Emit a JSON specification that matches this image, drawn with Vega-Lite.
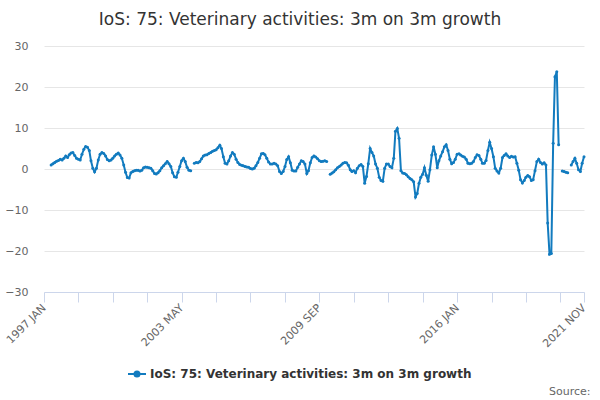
{
  "$schema": "https://vega.github.io/schema/vega-lite/v6.json",
  "width": 540,
  "height": 246,
  "autosize": {"type": "none"},
  "padding": {"left": 44, "top": 46, "right": 16, "bottom": 108},
  "background": "white",
  "config": {
    "font": "DejaVu Sans",
    "view": {"stroke": null}
  },
  "title": {
    "text": "IoS: 75: Veterinary activities: 3m on 3m growth",
    "fontSize": 17,
    "fontWeight": "normal",
    "color": "#333333",
    "anchor": "middle",
    "dx": -14,
    "dy": 24,
    "baseline": "alphabetic",
    "offset": 22
  },
  "data": {
    "values": [
      {"date": "1997-05-01", "value": 1.0},
      {"date": "1997-06-01", "value": 1.3},
      {"date": "1997-07-01", "value": 1.6},
      {"date": "1997-08-01", "value": 1.9},
      {"date": "1997-09-01", "value": 2.1},
      {"date": "1997-10-01", "value": 2.4},
      {"date": "1997-11-01", "value": 2.2},
      {"date": "1997-12-01", "value": 2.6},
      {"date": "1998-01-01", "value": 3.2},
      {"date": "1998-02-01", "value": 2.8},
      {"date": "1998-03-01", "value": 3.5},
      {"date": "1998-04-01", "value": 3.9},
      {"date": "1998-05-01", "value": 4.0},
      {"date": "1998-06-01", "value": 3.3},
      {"date": "1998-07-01", "value": 2.6},
      {"date": "1998-08-01", "value": 2.4},
      {"date": "1998-09-01", "value": 2.2},
      {"date": "1998-10-01", "value": 3.6},
      {"date": "1998-11-01", "value": 4.8},
      {"date": "1998-12-01", "value": 5.5},
      {"date": "1999-01-01", "value": 5.3},
      {"date": "1999-02-01", "value": 4.5},
      {"date": "1999-03-01", "value": 2.0},
      {"date": "1999-04-01", "value": 0.2},
      {"date": "1999-05-01", "value": -0.7},
      {"date": "1999-06-01", "value": 0.2},
      {"date": "1999-07-01", "value": 2.2},
      {"date": "1999-08-01", "value": 3.6},
      {"date": "1999-09-01", "value": 4.0},
      {"date": "1999-10-01", "value": 3.8},
      {"date": "1999-11-01", "value": 3.2},
      {"date": "1999-12-01", "value": 2.3},
      {"date": "2000-01-01", "value": 2.0},
      {"date": "2000-02-01", "value": 2.2},
      {"date": "2000-03-01", "value": 2.6},
      {"date": "2000-04-01", "value": 3.2},
      {"date": "2000-05-01", "value": 3.6},
      {"date": "2000-06-01", "value": 3.9},
      {"date": "2000-07-01", "value": 3.4},
      {"date": "2000-08-01", "value": 2.6},
      {"date": "2000-09-01", "value": 1.0},
      {"date": "2000-10-01", "value": -0.8},
      {"date": "2000-11-01", "value": -2.1},
      {"date": "2000-12-01", "value": -2.2},
      {"date": "2001-01-01", "value": -0.9},
      {"date": "2001-02-01", "value": -0.6},
      {"date": "2001-03-01", "value": -0.4},
      {"date": "2001-04-01", "value": -0.3},
      {"date": "2001-05-01", "value": -0.3},
      {"date": "2001-06-01", "value": -0.5},
      {"date": "2001-07-01", "value": -0.3},
      {"date": "2001-08-01", "value": 0.3},
      {"date": "2001-09-01", "value": 0.5},
      {"date": "2001-10-01", "value": 0.4},
      {"date": "2001-11-01", "value": 0.3},
      {"date": "2001-12-01", "value": 0.2},
      {"date": "2002-01-01", "value": -0.4},
      {"date": "2002-02-01", "value": -1.1},
      {"date": "2002-03-01", "value": -1.2},
      {"date": "2002-04-01", "value": -0.9},
      {"date": "2002-05-01", "value": -0.4},
      {"date": "2002-06-01", "value": 0.3},
      {"date": "2002-07-01", "value": 0.8},
      {"date": "2002-08-01", "value": 1.3},
      {"date": "2002-09-01", "value": 1.8},
      {"date": "2002-10-01", "value": 1.3},
      {"date": "2002-11-01", "value": 0.6},
      {"date": "2002-12-01", "value": -0.9},
      {"date": "2003-01-01", "value": -1.9},
      {"date": "2003-02-01", "value": -2.0},
      {"date": "2003-03-01", "value": -0.8},
      {"date": "2003-04-01", "value": 0.6},
      {"date": "2003-05-01", "value": 2.0},
      {"date": "2003-06-01", "value": 2.6},
      {"date": "2003-07-01", "value": 1.8},
      {"date": "2003-08-01", "value": 0.4},
      {"date": "2003-09-01", "value": -0.3},
      {"date": "2003-10-01", "value": -0.4},
      {"date": "2003-11-01", "value": null},
      {"date": "2003-12-01", "value": 1.4},
      {"date": "2004-01-01", "value": 1.6},
      {"date": "2004-02-01", "value": 1.5},
      {"date": "2004-03-01", "value": 1.8},
      {"date": "2004-04-01", "value": 2.5},
      {"date": "2004-05-01", "value": 3.2},
      {"date": "2004-06-01", "value": 3.4},
      {"date": "2004-07-01", "value": 3.5},
      {"date": "2004-08-01", "value": 3.8},
      {"date": "2004-09-01", "value": 4.0},
      {"date": "2004-10-01", "value": 4.3},
      {"date": "2004-11-01", "value": 4.5},
      {"date": "2004-12-01", "value": 4.7},
      {"date": "2005-01-01", "value": 5.2},
      {"date": "2005-02-01", "value": 5.8},
      {"date": "2005-03-01", "value": 5.0},
      {"date": "2005-04-01", "value": 3.0},
      {"date": "2005-05-01", "value": 1.4},
      {"date": "2005-06-01", "value": 1.2},
      {"date": "2005-07-01", "value": 2.0},
      {"date": "2005-08-01", "value": 3.2},
      {"date": "2005-09-01", "value": 4.0},
      {"date": "2005-10-01", "value": 3.6},
      {"date": "2005-11-01", "value": 2.4},
      {"date": "2005-12-01", "value": 1.6},
      {"date": "2006-01-01", "value": 1.1},
      {"date": "2006-02-01", "value": 0.9},
      {"date": "2006-03-01", "value": 0.8},
      {"date": "2006-04-01", "value": 0.6},
      {"date": "2006-05-01", "value": 0.5},
      {"date": "2006-06-01", "value": 0.4},
      {"date": "2006-07-01", "value": 0.1},
      {"date": "2006-08-01", "value": 0.0},
      {"date": "2006-09-01", "value": 0.2},
      {"date": "2006-10-01", "value": 0.8},
      {"date": "2006-11-01", "value": 1.6},
      {"date": "2006-12-01", "value": 2.6},
      {"date": "2007-01-01", "value": 3.7},
      {"date": "2007-02-01", "value": 3.8},
      {"date": "2007-03-01", "value": 3.5},
      {"date": "2007-04-01", "value": 2.6},
      {"date": "2007-05-01", "value": 1.7},
      {"date": "2007-06-01", "value": 1.2},
      {"date": "2007-07-01", "value": 1.2},
      {"date": "2007-08-01", "value": 1.4},
      {"date": "2007-09-01", "value": 1.2},
      {"date": "2007-10-01", "value": 0.8},
      {"date": "2007-11-01", "value": -0.6},
      {"date": "2007-12-01", "value": -1.1},
      {"date": "2008-01-01", "value": -0.6},
      {"date": "2008-02-01", "value": 0.6},
      {"date": "2008-03-01", "value": 2.3},
      {"date": "2008-04-01", "value": 3.0},
      {"date": "2008-05-01", "value": 1.5},
      {"date": "2008-06-01", "value": -0.3},
      {"date": "2008-07-01", "value": -0.5},
      {"date": "2008-08-01", "value": -0.5},
      {"date": "2008-09-01", "value": 0.4},
      {"date": "2008-10-01", "value": 1.2},
      {"date": "2008-11-01", "value": 2.0},
      {"date": "2008-12-01", "value": 1.8},
      {"date": "2009-01-01", "value": 1.2},
      {"date": "2009-02-01", "value": -1.1},
      {"date": "2009-03-01", "value": -0.4},
      {"date": "2009-04-01", "value": 1.5},
      {"date": "2009-05-01", "value": 2.8},
      {"date": "2009-06-01", "value": 3.2},
      {"date": "2009-07-01", "value": 2.9},
      {"date": "2009-08-01", "value": 2.5},
      {"date": "2009-09-01", "value": 2.0},
      {"date": "2009-10-01", "value": 1.8},
      {"date": "2009-11-01", "value": 1.9},
      {"date": "2009-12-01", "value": 2.0},
      {"date": "2010-01-01", "value": 1.8},
      {"date": "2010-02-01", "value": null},
      {"date": "2010-03-01", "value": -1.3},
      {"date": "2010-04-01", "value": -1.0},
      {"date": "2010-05-01", "value": -0.7},
      {"date": "2010-06-01", "value": -0.2},
      {"date": "2010-07-01", "value": 0.3},
      {"date": "2010-08-01", "value": 0.6},
      {"date": "2010-09-01", "value": 1.0},
      {"date": "2010-10-01", "value": 1.4},
      {"date": "2010-11-01", "value": 1.6},
      {"date": "2010-12-01", "value": 1.5},
      {"date": "2011-01-01", "value": 0.9},
      {"date": "2011-02-01", "value": -0.2},
      {"date": "2011-03-01", "value": -0.6},
      {"date": "2011-04-01", "value": -0.4},
      {"date": "2011-05-01", "value": -0.9},
      {"date": "2011-06-01", "value": 0.2},
      {"date": "2011-07-01", "value": 0.8},
      {"date": "2011-08-01", "value": 1.1},
      {"date": "2011-09-01", "value": 0.6},
      {"date": "2011-10-01", "value": -3.5},
      {"date": "2011-11-01", "value": -1.8},
      {"date": "2011-12-01", "value": 1.3},
      {"date": "2012-01-01", "value": 5.0},
      {"date": "2012-02-01", "value": 4.0},
      {"date": "2012-03-01", "value": 3.2},
      {"date": "2012-04-01", "value": 1.2},
      {"date": "2012-05-01", "value": 0.2},
      {"date": "2012-06-01", "value": -2.0},
      {"date": "2012-07-01", "value": -2.8},
      {"date": "2012-08-01", "value": -3.0},
      {"date": "2012-09-01", "value": 0.2},
      {"date": "2012-10-01", "value": 1.2},
      {"date": "2012-11-01", "value": 1.2},
      {"date": "2012-12-01", "value": 0.6},
      {"date": "2013-01-01", "value": 0.3},
      {"date": "2013-02-01", "value": 2.6},
      {"date": "2013-03-01", "value": 9.2},
      {"date": "2013-04-01", "value": 9.9},
      {"date": "2013-05-01", "value": 7.5},
      {"date": "2013-06-01", "value": -0.4},
      {"date": "2013-07-01", "value": -1.0},
      {"date": "2013-08-01", "value": -1.1},
      {"date": "2013-09-01", "value": -1.4},
      {"date": "2013-10-01", "value": -1.9},
      {"date": "2013-11-01", "value": -2.3},
      {"date": "2013-12-01", "value": -2.6},
      {"date": "2014-01-01", "value": -3.1},
      {"date": "2014-02-01", "value": -6.8},
      {"date": "2014-03-01", "value": -6.0},
      {"date": "2014-04-01", "value": -3.5},
      {"date": "2014-05-01", "value": -2.0},
      {"date": "2014-06-01", "value": -1.3},
      {"date": "2014-07-01", "value": 0.3},
      {"date": "2014-08-01", "value": -1.5},
      {"date": "2014-09-01", "value": -3.0},
      {"date": "2014-10-01", "value": -0.2},
      {"date": "2014-11-01", "value": 3.4},
      {"date": "2014-12-01", "value": 5.4},
      {"date": "2015-01-01", "value": 3.6},
      {"date": "2015-02-01", "value": 0.3},
      {"date": "2015-03-01", "value": 2.0},
      {"date": "2015-04-01", "value": 3.2},
      {"date": "2015-05-01", "value": 4.2},
      {"date": "2015-06-01", "value": 5.4},
      {"date": "2015-07-01", "value": 5.9},
      {"date": "2015-08-01", "value": 4.5},
      {"date": "2015-09-01", "value": 2.4},
      {"date": "2015-10-01", "value": 1.3},
      {"date": "2015-11-01", "value": 1.6},
      {"date": "2015-12-01", "value": 2.4},
      {"date": "2016-01-01", "value": 3.6},
      {"date": "2016-02-01", "value": 3.7},
      {"date": "2016-03-01", "value": 3.4},
      {"date": "2016-04-01", "value": 3.1},
      {"date": "2016-05-01", "value": 2.9},
      {"date": "2016-06-01", "value": 2.4},
      {"date": "2016-07-01", "value": 1.4},
      {"date": "2016-08-01", "value": 1.3},
      {"date": "2016-09-01", "value": 1.4},
      {"date": "2016-10-01", "value": 1.8},
      {"date": "2016-11-01", "value": 2.8},
      {"date": "2016-12-01", "value": 3.5},
      {"date": "2017-01-01", "value": 3.3},
      {"date": "2017-02-01", "value": 2.4},
      {"date": "2017-03-01", "value": 1.4},
      {"date": "2017-04-01", "value": 1.4},
      {"date": "2017-05-01", "value": 2.1},
      {"date": "2017-06-01", "value": 4.5},
      {"date": "2017-07-01", "value": 6.5},
      {"date": "2017-08-01", "value": 5.0},
      {"date": "2017-09-01", "value": 3.0},
      {"date": "2017-10-01", "value": 0.2},
      {"date": "2017-11-01", "value": -0.5},
      {"date": "2017-12-01", "value": -1.0},
      {"date": "2018-01-01", "value": 0.2},
      {"date": "2018-02-01", "value": 2.8},
      {"date": "2018-03-01", "value": 3.3},
      {"date": "2018-04-01", "value": 3.7},
      {"date": "2018-05-01", "value": 3.2},
      {"date": "2018-06-01", "value": 2.8},
      {"date": "2018-07-01", "value": 3.1},
      {"date": "2018-08-01", "value": 2.9},
      {"date": "2018-09-01", "value": 3.0},
      {"date": "2018-10-01", "value": 1.4},
      {"date": "2018-11-01", "value": -0.3},
      {"date": "2018-12-01", "value": -2.6},
      {"date": "2019-01-01", "value": -3.4},
      {"date": "2019-02-01", "value": -2.8},
      {"date": "2019-03-01", "value": -2.0},
      {"date": "2019-04-01", "value": -1.6},
      {"date": "2019-05-01", "value": -1.9},
      {"date": "2019-06-01", "value": -2.8},
      {"date": "2019-07-01", "value": -2.6},
      {"date": "2019-08-01", "value": -0.4},
      {"date": "2019-09-01", "value": 1.8},
      {"date": "2019-10-01", "value": 2.4},
      {"date": "2019-11-01", "value": 1.6},
      {"date": "2019-12-01", "value": 1.2},
      {"date": "2020-01-01", "value": 1.5},
      {"date": "2020-02-01", "value": 1.0},
      {"date": "2020-03-01", "value": -13.2},
      {"date": "2020-04-01", "value": -20.8},
      {"date": "2020-05-01", "value": -20.6},
      {"date": "2020-06-01", "value": 6.3},
      {"date": "2020-07-01", "value": 22.5},
      {"date": "2020-08-01", "value": 23.7},
      {"date": "2020-09-01", "value": 5.9},
      {"date": "2020-10-01", "value": null},
      {"date": "2020-11-01", "value": -0.5},
      {"date": "2020-12-01", "value": -0.6},
      {"date": "2021-01-01", "value": -0.8},
      {"date": "2021-02-01", "value": -0.9},
      {"date": "2021-03-01", "value": null},
      {"date": "2021-04-01", "value": 1.0},
      {"date": "2021-05-01", "value": 1.8},
      {"date": "2021-06-01", "value": 2.6},
      {"date": "2021-07-01", "value": 1.4},
      {"date": "2021-08-01", "value": -0.2},
      {"date": "2021-09-01", "value": -0.6},
      {"date": "2021-10-01", "value": 1.4},
      {"date": "2021-11-01", "value": 3.0}
    ]
  },
  "mark": {
    "type": "line",
    "strokeWidth": 2,
    "point": {"filled": true, "size": 9}
  },
  "encoding": {
    "x": {
      "field": "date",
      "type": "temporal",
      "scale": {
        "type": "utc",
        "domain": [
          {"year": 1997, "month": 1, "date": 1, "utc": true},
          {"year": 2021, "month": 11, "date": 1, "utc": true}
        ]
      },
      "axis": {
        "title": "Source:",
        "titleAnchor": "end",
        "titleAlign": "right",
        "titleX": 546,
        "titleY": 102,
        "titleBaseline": "alphabetic",
        "titleFontSize": 11,
        "titleFontWeight": "normal",
        "titleColor": "#666666",
        "values": [
          {"year": 1997, "month": 1, "date": 1, "utc": true},
          {"year": 1998, "month": 8, "date": 1, "utc": true},
          {"year": 2000, "month": 3, "date": 1, "utc": true},
          {"year": 2001, "month": 10, "date": 1, "utc": true},
          {"year": 2003, "month": 5, "date": 1, "utc": true},
          {"year": 2004, "month": 12, "date": 1, "utc": true},
          {"year": 2006, "month": 7, "date": 1, "utc": true},
          {"year": 2008, "month": 2, "date": 1, "utc": true},
          {"year": 2009, "month": 9, "date": 1, "utc": true},
          {"year": 2011, "month": 4, "date": 1, "utc": true},
          {"year": 2012, "month": 11, "date": 1, "utc": true},
          {"year": 2014, "month": 6, "date": 1, "utc": true},
          {"year": 2016, "month": 1, "date": 1, "utc": true},
          {"year": 2017, "month": 8, "date": 1, "utc": true},
          {"year": 2019, "month": 3, "date": 1, "utc": true},
          {"year": 2020, "month": 10, "date": 1, "utc": true},
          {"year": 2021, "month": 11, "date": 1, "utc": true}
        ],
        "labelExpr": "indexof(['1997 JAN','2003 MAY','2009 SEP','2016 JAN','2021 NOV'], upper(utcFormat(datum.value, '%Y %b'))) >= 0 ? upper(utcFormat(datum.value, '%Y %b')) : ''",
        "labelAngle": -45,
        "labelAlign": "right",
        "labelBaseline": "middle",
        "labelFontSize": 11,
        "labelColor": "#666666",
        "labelPadding": 4,
        "labelOverlap": false,
        "labelBound": false,
        "labelFlush": false,
        "tickColor": "#ccd6eb",
        "tickSize": 10,
        "domainColor": "#ccd6eb",
        "grid": false
      }
    },
    "y": {
      "field": "value",
      "type": "quantitative",
      "scale": {"domain": [-30, 30], "nice": false},
      "axis": {
        "title": null,
        "values": [-30, -20, -10, 0, 10, 20, 30],
        "domain": false,
        "ticks": false,
        "labelFontSize": 11,
        "labelColor": "#666666",
        "labelPadding": 16,
        "gridColor": "#e6e6e6",
        "gridWidth": 1
      }
    },
    "color": {
      "datum": "IoS: 75: Veterinary activities: 3m on 3m growth",
      "type": "nominal",
      "scale": {"range": ["#127bbf"]},
      "legend": {
        "title": null,
        "orient": "none",
        "legendX": 83,
        "legendY": 318,
        "labelFontSize": 12,
        "labelFontWeight": "bold",
        "labelColor": "#333333",
        "labelLimit": 600,
        "labelOffset": 3,
        "symbolType": "M-1,0L1,0M-0.28,0A0.28,0.28,0,1,1,0.28,0A0.28,0.28,0,1,1,-0.28,0Z",
        "symbolSize": 324,
        "symbolStrokeWidth": 2,
        "symbolStrokeColor": "#127bbf",
        "symbolFillColor": "#127bbf"
      }
    }
  }
}
